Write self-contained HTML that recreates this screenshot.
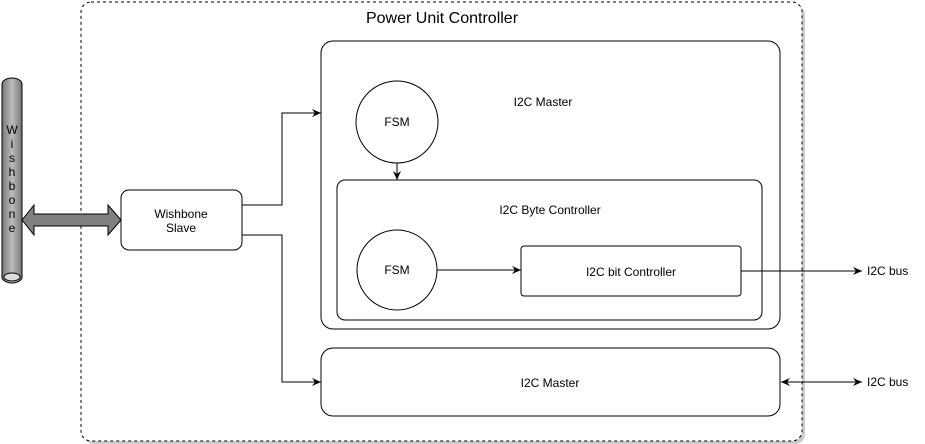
<!DOCTYPE html>
<html><head><style>body{margin:0;background:#fff}svg{display:block}text{font-family:"Liberation Sans",sans-serif;fill:#000}</style></head><body>
<svg width="925" height="444" viewBox="0 0 925 444" xmlns="http://www.w3.org/2000/svg">
<defs>
<linearGradient id="cy" x1="0" x2="1"><stop offset="0" stop-color="#777"/><stop offset="0.5" stop-color="#bbb"/><stop offset="1" stop-color="#777"/></linearGradient>
<marker id="ar" markerWidth="10" markerHeight="10" refX="9" refY="5" orient="auto" markerUnits="userSpaceOnUse"><path d="M0,1 L9,5 L0,9 L3,5Z" fill="#000"/></marker>
<marker id="as" markerWidth="10" markerHeight="10" refX="1" refY="5" orient="auto" markerUnits="userSpaceOnUse"><path d="M10,1 L1,5 L10,9 L7,5Z" fill="#000"/></marker>
</defs>
<g fill="#999" opacity="0.5">
<rect x="84" y="5" width="721" height="439" rx="10"/>
<rect x="324" y="44" width="459" height="288" rx="12"/>
<rect x="324" y="351" width="459" height="68" rx="12"/>
<rect x="124" y="193" width="121" height="60" rx="8"/>
</g>
<rect x="81" y="2" width="721" height="439" rx="10" fill="#fff" stroke="#000" stroke-dasharray="3,3"/>
<text x="442" y="23" font-size="16" text-anchor="middle">Power Unit Controller</text>
<rect x="321" y="41" width="459" height="288" rx="12" fill="#fff" stroke="#000"/>
<text x="543" y="106" font-size="12" text-anchor="middle">I2C Master</text>
<circle cx="397" cy="122" r="41" fill="#fff" stroke="#000"/>
<text x="397" y="126" font-size="12" text-anchor="middle">FSM</text>
<line x1="397" y1="163" x2="397" y2="180" stroke="#000" marker-end="url(#ar)"/>
<rect x="337" y="180" width="425" height="140" rx="8" fill="#fff" stroke="#000"/>
<text x="550" y="214" font-size="12" text-anchor="middle">I2C Byte Controller</text>
<circle cx="397" cy="270" r="40" fill="#fff" stroke="#000"/>
<text x="397" y="274" font-size="12" text-anchor="middle">FSM</text>
<line x1="437" y1="270" x2="521" y2="270" stroke="#000" marker-end="url(#ar)"/>
<rect x="521" y="246" width="220" height="50" rx="3" fill="#fff" stroke="#000"/>
<text x="631" y="276" font-size="12" text-anchor="middle">I2C bit Controller</text>
<line x1="741" y1="271" x2="862" y2="271" stroke="#000" marker-end="url(#ar)"/>
<text x="867" y="275" font-size="12">I2C bus</text>
<rect x="321" y="348" width="459" height="68" rx="12" fill="#fff" stroke="#000"/>
<text x="550" y="387" font-size="12" text-anchor="middle">I2C Master</text>
<line x1="781" y1="382" x2="862" y2="382" stroke="#000" marker-start="url(#as)" marker-end="url(#ar)"/>
<text x="867" y="386" font-size="12">I2C bus</text>
<rect x="121" y="190" width="121" height="60" rx="8" fill="#fff" stroke="#000"/>
<text x="181" y="218" font-size="12" text-anchor="middle">Wishbone</text>
<text x="181" y="232" font-size="12" text-anchor="middle">Slave</text>
<polyline points="242,205 282,205 282,113 321,113" fill="none" stroke="#000" marker-end="url(#ar)"/>
<polyline points="242,235 282,235 282,382 321,382" fill="none" stroke="#000" marker-end="url(#ar)"/>
<path d="M22,220 L34,205 L34,214 L108,214 L108,205 L121,220 L108,235 L108,226 L34,226 L34,235Z" fill="#808080" stroke="#000"/>
<path d="M2,84 A10,6 0 0 1 22,84 L22,277 A10,6 0 0 1 2,277Z" fill="url(#cy)" stroke="#000"/>
<ellipse cx="12" cy="277" rx="8" ry="4" fill="#ddd" stroke="#000"/>
<g font-size="12" text-anchor="middle">
<text x="12" y="134">W</text><text x="12" y="148">i</text><text x="12" y="162">s</text><text x="12" y="176">h</text><text x="12" y="190">b</text><text x="12" y="204">o</text><text x="12" y="218">n</text><text x="12" y="232">e</text>
</g>
</svg>
</body></html>
